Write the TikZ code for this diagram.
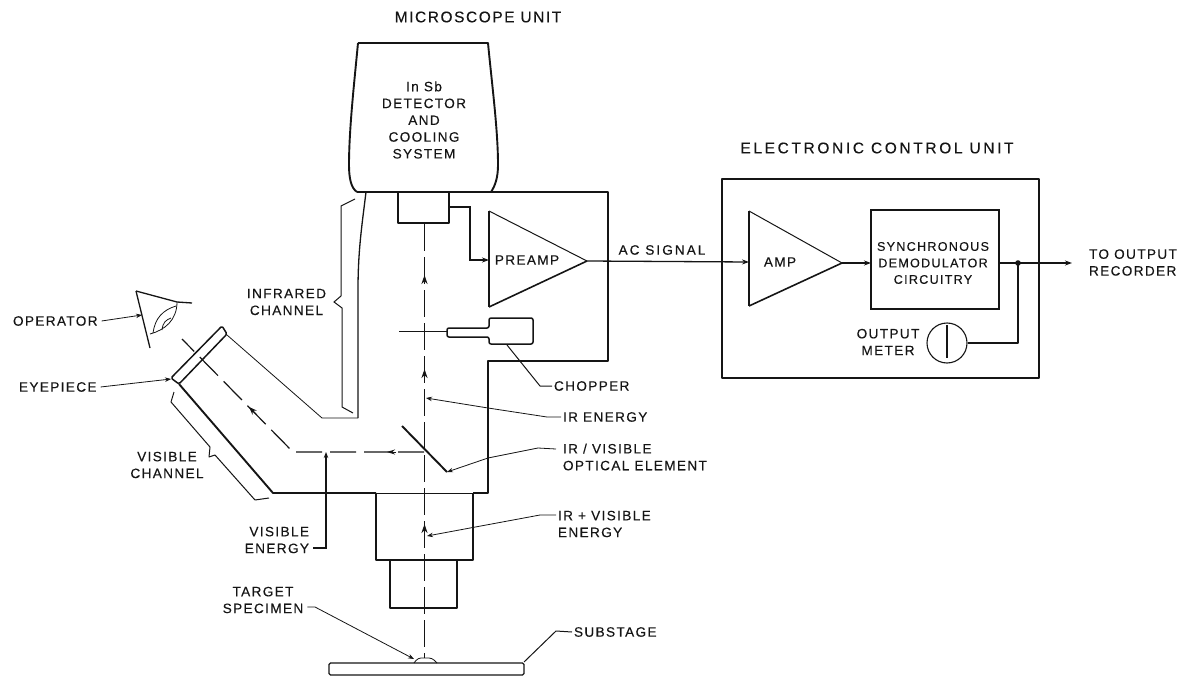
\documentclass[tikz,border=0pt]{standalone}
\usepackage{fontspec}
\setmainfont[LetterSpace=10,FakeBold=0.25]{Liberation Sans}
\usetikzlibrary{arrows.meta}
\definecolor{ink}{HTML}{151515}
\tikzset{
  wall/.style={draw=ink,line width=1.9pt,line join=round},
  wire/.style={draw=ink,line width=1.3pt,line join=round},
  thin line/.style={draw=ink,line width=0.8pt,line join=round},
  leader/.style={draw=ink,line width=0.8pt,-{Stealth[length=6pt,width=4.5pt]}},
  sig/.style={draw=ink,line width=1.3pt,-{Stealth[length=7pt,width=5pt]}},
  beam/.style={draw=ink,line width=1.8pt,dash pattern=on 27pt off 6pt},
  vbeam/.style={draw=ink,line width=1.2pt,dash pattern=on 26pt off 8pt},
  tag/.style={inner sep=0pt,outer sep=2pt,text=ink,font=\fontsize{13.6}{16.8}\selectfont,align=center},
  bigtag/.style={inner sep=0pt,outer sep=2pt,text=ink,font=\fontsize{15.5}{18}\selectfont,align=center},
}
\begin{document}
\begin{tikzpicture}[x=1pt,y=-1pt]
\useasboundingbox (0,0) rectangle (1183,679);
% titles
\node[bigtag] (tMicro) at (478,17) {MICROSCOPE UNIT};
\node[bigtag] (tEcu) at (877,148) {\addfontfeature{LetterSpace=17}ELECTRONIC CONTROL UNIT};
% detector
\draw[wall] (358,43) -- (488,43) .. controls (492,85) and (498,130) .. (498,165) .. controls (498,178) and (495,186) .. (491,192);
\draw[wall] (358,43) .. controls (354,85) and (349,130) .. (349,165) .. controls (349,178) and (351,188) .. (357,192);
\node[tag] (tDet) at (424,120) {In Sb\\DETECTOR\\AND\\COOLING\\SYSTEM};
% microscope body
\draw[wall] (357,192) -- (608,192) -- (608,361) -- (488,361) -- (488,493) -- (473,493);
\draw[thin line] (376,493) -- (473,493);
\draw[wall] (376,493) -- (273,493) -- (179,384);
\draw[wire] (366,192) .. controls (362,225) and (358,250) .. (358,290) -- (358,418);
\draw[thin line] (358,418) -- (322,418) -- (227,335);
\draw[wall] (398,192) -- (398,223) -- (449,223) -- (449,192);
% barrels
\draw[wall] (376,493) -- (376,560) -- (473,560) -- (473,493);
\draw[wall] (390,560) -- (390,608) -- (457,608) -- (457,560);
% substage
\draw[wire,rounded corners=1.5pt] (329,663) rectangle (524,675);
\draw[thin line,rounded corners=3pt] (414,663) -- (418,658) -- (432,658) -- (437,663);
\coordinate (spec) at (414,659);
\coordinate (sub) at (524,662);
% beam
\coordinate (bTop) at (424.5,224);
\coordinate (bEnd) at (424.5,658);
\draw[beam] (bTop) -- (bEnd);
\foreach \yy in {284,378,533}
  \draw[draw=ink,line width=1.3pt,-{Stealth[length=9pt,width=6pt]}] (424.5,\yy) -- (424.5,\yy-9);
% mirror
\coordinate (mA) at (402,426);
\coordinate (mB) at (447,472);
\draw[wall] (mA) -- (mB);
% visible path
\coordinate (vA) at (182,339);
\coordinate (vB) at (293,452);
\coordinate (vC) at (424,452);
\draw[vbeam] (vC) -- (vB) -- (vA);
\draw[draw=ink,line width=1pt,-{Stealth[length=8pt,width=6pt]}] (256,414) -- (249,407);
\draw[draw=ink,line width=1pt,-{Stealth[length=8pt,width=5pt]}] (396,452) -- (387,452);
% eyepiece
\draw[wire,line width=1.5pt,rounded corners=1.5pt] (222,326) -- (227,334) -- (179,384) -- (171,378) -- cycle;
% eye
\draw[wire] (136,291) -- (150,348);
\draw[wire] (136,291) -- (177,302) -- (192,303);
\draw[thin line] (177,302) .. controls (177,320) and (165,330) .. (150,334);
\draw[thin line] (153,333) .. controls (155,318) and (163,310) .. (176,306);
\draw[thin line] (162,330) .. controls (163,322) and (166,320) .. (171,318);
\coordinate (eye) at (142,315);
% IR brace
\draw[thin line,line width=1pt,line join=miter] (355,199) -- (341,206) -- (341,296) -- (334,302) -- (342,308) -- (342,407) -- (353,413);
\node[tag,anchor=east] (tIr) at (328,302) {INFRARED\\CHANNEL};
% visible brace
\draw[thin line,line width=1pt] (174,392) -- (171,402) -- (210,447) -- (209,457) -- (215,455) -- (255,500) -- (269,498);
\node[tag] (tVis) at (167,465) {VISIBLE\\CHANNEL};
% preamp
\node[tag] (tPre) at (527,260) {PREAMP};
\coordinate (pI) at (489,260);
\coordinate (pO) at (587,261);
\draw[wire] (489,211) -- (489,307);
\draw[thin line,line width=1pt] (489,211) -- (pO);
\draw[wire,line width=1.6pt] (489,307) -- (pO);
\coordinate (dOut) at (449,207);
\draw[sig] (dOut) -- (470,207) -- (470,260) -- (pI);
% chopper
\draw[wire,line width=1.5pt,rounded corners=2pt] (489,328) -- (489,318) -- (533,318) -- (533,344) -- (489,344) -- (489,337) -- (447,337) -- (447,328) -- cycle;
\coordinate (chopL) at (447,331);
\coordinate (chopE) at (399,331);
\draw[wire,line width=1pt] (chopE) -- (chopL);
\node[tag,anchor=west] (tChop) at (552,386) {CHOPPER};
\coordinate (chopT) at (507,345);
\draw[draw=ink,line width=1pt] (tChop.west) -- (540,386) -- (chopT);
% ECU
\draw[wall,line width=1.7pt] (722,179) rectangle (1039,378);
\coordinate (aI) at (749,262);
\coordinate (aO) at (842,263);
\draw[wire] (749,211) -- (749,306);
\draw[thin line,line width=1pt] (749,211) -- (aO);
\draw[wire,line width=1.6pt] (749,306) -- (aO);
\node[tag] (tAmp) at (780,262) {AMP};
\node[tag,draw=ink,line width=1.4pt,minimum width=128pt,minimum height=99pt,outer sep=0pt] (demod) at (935,259.5) {};
\node[tag,font=\fontsize{12.6}{16.5}\selectfont] (tDem) at (933,263) {SYNCHRONOUS\\DEMODULATOR\\CIRCUITRY};
\draw[sig] (pO) -- (aI);
\node[tag] (tAc) at (662,250) {\addfontfeature{LetterSpace=15}AC SIGNAL};
\draw[sig] (aO) -- (demod.west |- aO);
\coordinate (oEnd) at (1072,263);
\draw[sig] (demod.east |- oEnd) -- (oEnd);
\node[tag,anchor=west,align=left] (tOut) at (1087,262.5) {TO OUTPUT\\RECORDER};
\coordinate (junc) at (1018,263);
\fill[ink] (junc) circle (2.8pt);
\node[circle,draw=ink,line width=1.1pt,minimum size=40pt,inner sep=0pt] (meter) at (947,343) {};
\draw[wire] (947,325) -- (947,358);
\draw[wire] (junc) -- (1018,343) -- (meter.east);
\node[tag] (tMet) at (888,342) {OUTPUT\\METER};
% left labels & leaders
\node[tag,anchor=west] (tOp) at (11,321) {OPERATOR};
\draw[leader] (tOp.east) ++(2,0) -- (eye);
\node[tag,anchor=west] (tEye) at (17,387) {EYEPIECE};
\coordinate (eyePt) at (171,379);
\draw[leader] (tEye.east) ++(2,0) -- (eyePt);
% visible energy
\node[tag,align=right,anchor=east] (tVe) at (311,540) {VISIBLE\\ENERGY};
\coordinate (veTip) at (326,452);
\draw[leader,line width=1.1pt] (tVe.east |- 0,548) ++(2,0) -- (326,548) -- (veTip);
% target
\node[tag] (tTar) at (263,600) {TARGET\\SPECIMEN};
\draw[leader] (tTar.east |- 0,607) ++(2,0) -- (315,607) -- (spec);
% substage
\node[tag,anchor=west] (tSub) at (572,632) {SUBSTAGE};
\draw[draw=ink,line width=1pt] (tSub.west) -- (556,631) -- (sub);
% right labels
\node[tag,anchor=west] (tIre) at (561,417) {IR ENERGY};
\coordinate (ireT) at (426,398);
\draw[leader] (tIre.west) -- (547,417) -- (488,408) -- (ireT);
\node[tag,anchor=west,align=left] (tOpt) at (556,457) {\hspace{5pt}IR / VISIBLE\\\hspace{5pt}OPTICAL ELEMENT};
\draw[leader] (tOpt.west |- 0,449) -- (538,448) -- (488,458) -- (mB);
\node[tag,anchor=west,align=left] (tBoth) at (556,524) {IR + VISIBLE\\ENERGY};
\coordinate (bothT) at (427,536);
\draw[leader] (tBoth.west |- 0,515) -- (540,515) -- (bothT);
\end{tikzpicture}
\end{document}
